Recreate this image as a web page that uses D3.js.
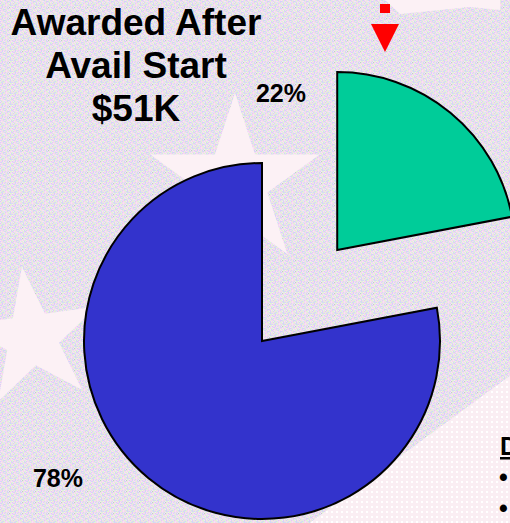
<!DOCTYPE html>
<html>
<head>
<meta charset="utf-8">
<script src="https://cdn.jsdelivr.net/npm/d3@7"></script>
<style>
  body { margin: 0; overflow: hidden; }
  svg { display: block; font-family: "Liberation Sans", Arial, sans-serif; }
</style>
</head>
<body>
<script>
// Data
var categories = ['Awarded After Avail Start', 'Awarded Before Avail Start'];
var values = [22, 78];
var labels = ['22%', '78%'];
var colors = ['#00CC99', '#3333CC'];
var titleLines = ['Awarded After', 'Avail Start', '$51K'];

var width = 510;
var height = 523;

var svg = d3.select('body').append('svg')
            .attr('width', width)
            .attr('height', height);

var defs = svg.append('defs');

// speckled background tile
var noiseColors = ['#F8D4EE', '#D4D4F6', '#E2F6D2', '#F8E4F4', '#DEF4DA', '#DAD6F6', '#F4D8F2'];
var tile = defs.append('pattern')
               .attr('id', 'speckle')
               .attr('width', 13).attr('height', 11)
               .attr('patternUnits', 'userSpaceOnUse');
for (var i = 0; i < 13; i++) {
  for (var j = 0; j < 11; j++) {
    var k = (i * 3 + j * 5 + (i * j) % 4) % noiseColors.length;
    tile.append('rect').attr('x', i).attr('y', j).attr('width', 1).attr('height', 1)
        .attr('fill', noiseColors[k]);
  }
}
tile.append('rect').attr('x', 4).attr('y', 2).attr('width', 1).attr('height', 1).attr('fill', '#C8F6F6');
tile.append('rect').attr('x', 9).attr('y', 7).attr('width', 1).attr('height', 1).attr('fill', '#C4C4CC');

// dotted white area tile
var dots = defs.append('pattern')
               .attr('id', 'dots')
               .attr('width', 5).attr('height', 5)
               .attr('patternUnits', 'userSpaceOnUse');
dots.append('rect').attr('width', 5).attr('height', 5).attr('fill', '#FAEEF3');
dots.append('rect').attr('x', 1).attr('y', 1).attr('width', 2).attr('height', 2).attr('fill', '#FFFFFF');

svg.append('rect')
   .attr('width', width).attr('height', height)
   .attr('fill', 'url(#speckle)');

// background stars
var starColor = '#FCF1F5';
var star = d3.symbol().type(d3.symbolStar);
svg.append('path')
   .attr('d', star.size(89 * 89 / 0.8908)())
   .attr('transform', 'translate(235,182)')
   .attr('fill', starColor);
svg.append('path')
   .attr('d', star.size(72 * 72 / 0.8908)())
   .attr('transform', 'translate(32,338) rotate(-8)')
   .attr('fill', starColor);
svg.append('path')
   .attr('d', 'M385,0 L500,0 L500,10 L470,7 L400,14 Z')
   .attr('fill', starColor);
svg.append('path')
   .attr('d', 'M515,372 L515,530 L300,530 Z')
   .attr('fill', 'url(#dots)');

// Pie
var cx = 262, cy = 341, radius = 178, explode = 118;

var pie = d3.pie().sort(null).value(d => d);
var arc = d3.arc().innerRadius(0).outerRadius(radius);
var arcs = pie(values);

var g = svg.append('g').attr('transform', `translate(${cx}, ${cy})`);

g.selectAll('path.slice')
 .data(arcs)
 .enter().append('path')
 .attr('class', 'slice')
 .attr('d', arc)
 .attr('fill', (d, i) => colors[i])
 .attr('stroke', '#000')
 .attr('stroke-width', 2)
 .attr('transform', function(d, i) {
   if (i !== 0) return null;
   var a = (d.startAngle + d.endAngle) / 2;
   return `translate(${Math.sin(a) * explode}, ${-Math.cos(a) * explode})`;
 });

// Percent labels
var labelPos = [[281, 102], [58, 487]];
svg.selectAll('text.pct')
   .data(labels)
   .enter().append('text')
   .attr('class', 'pct')
   .attr('x', (d, i) => labelPos[i][0])
   .attr('y', (d, i) => labelPos[i][1])
   .attr('text-anchor', 'middle')
   .style('font-size', '25px')
   .style('font-weight', 'bold')
   .text(d => d);

// Title
svg.selectAll('text.title')
   .data(titleLines)
   .enter().append('text')
   .attr('class', 'title')
   .attr('x', 136)
   .attr('y', (d, i) => 35 + i * 43)
   .attr('text-anchor', 'middle')
   .style('font-size', '37px')
   .style('font-weight', 'bold')
   .text(d => d);

// red dashed arrow
svg.append('line')
   .attr('x1', 385).attr('y1', 13)
   .attr('x2', 385).attr('y2', -30)
   .attr('stroke', '#FF0000')
   .attr('stroke-width', 10)
   .attr('stroke-dasharray', '9,11');
svg.append('path')
   .attr('d', 'M371,24 L399,24 L385,52 Z')
   .attr('fill', '#FF0000');

// notes cut off at the right edge, as in the original slide
svg.append('text')
   .attr('x', 500).attr('y', 455)
   .style('font-size', '25px')
   .style('font-weight', 'bold')
   .style('text-decoration', 'underline')
   .text('D');
svg.selectAll('text.bullet')
   .data([486, 517])
   .enter().append('text')
   .attr('class', 'bullet')
   .attr('x', 499).attr('y', d => d)
   .style('font-size', '25px')
   .style('font-weight', 'bold')
   .text('\u2022');
</script>
</body>
</html>
